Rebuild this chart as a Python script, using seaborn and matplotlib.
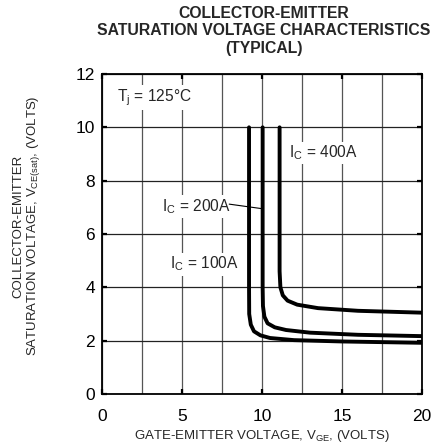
import matplotlib
matplotlib.use("Agg")
import matplotlib.pyplot as plt
import seaborn as sns
import pandas as pd

# Curves (V_GE in volts, V_CE(sat) in volts)
vge_100 = [9.19, 9.19, 9.20, 9.30, 9.50, 9.90, 10.5, 12.0, 15.0, 20.0]
vce_100 = [10.0, 4.00, 3.00, 2.60, 2.35, 2.20, 2.10, 2.02, 1.97, 1.92]

vge_200 = [10.04, 10.04, 10.06, 10.15, 10.35, 10.8, 11.5, 13.0, 16.0, 20.0]
vce_200 = [10.0, 4.00, 3.30, 2.90, 2.65, 2.50, 2.40, 2.30, 2.22, 2.17]

vge_400 = [11.10, 11.10, 11.15, 11.30, 11.60, 12.2, 13.5, 16.0, 20.0]
vce_400 = [10.0, 4.60, 4.00, 3.70, 3.50, 3.35, 3.22, 3.12, 3.05]

x_ticks = [0, 5, 10, 15, 20]
y_ticks = [0, 2, 4, 6, 8, 10, 12]

frames = []
for name, xs, ys in [("100A", vge_100, vce_100), ("200A", vge_200, vce_200), ("400A", vge_400, vce_400)]:
    frames.append(pd.DataFrame({"VGE": xs, "VCE": ys, "IC": name}))
df = pd.concat(frames, ignore_index=True)

sns.set_theme(style="ticks")
plt.rcParams["font.family"] = ["Liberation Sans", "DejaVu Sans"]
plt.rcParams["mathtext.default"] = "regular"
plt.rcParams["xtick.major.pad"] = 10.5
plt.rcParams["ytick.major.pad"] = 5

fig = plt.figure(figsize=(4.4, 4.45), dpi=100, facecolor="white")
ax = fig.add_axes([102 / 440, 1 - 394 / 445, 320 / 440, 320 / 445])

sns.lineplot(data=df, x="VGE", y="VCE", hue="IC", palette=["black"] * 3,
             sort=False, estimator=None, linewidth=2.8, legend=False, ax=ax, zorder=3)

ax.set_xlim(0, 20)
ax.set_ylim(0, 12)
ax.set_xticks(x_ticks)
ax.set_xticks([2.5, 7.5, 12.5, 17.5], minor=True)
ax.set_yticks(y_ticks)
ax.tick_params(axis="both", which="major", direction="in", length=3.5, width=1.6,
               top=True, right=True, labelsize=12.5, colors="black")
ax.tick_params(axis="x", which="minor", length=0)
ax.grid(axis="x", which="both", color="#555555", linewidth=0.9, zorder=1)
ax.grid(axis="y", which="major", color="#222222", linewidth=0.9, zorder=1)
for s in ax.spines.values():
    s.set_linewidth(1.3)
    s.set_color("black")

box = dict(facecolor="white", edgecolor="none", pad=1.5)
ax.text(0.92, 11.13, "T$_j$ = 125°C", fontsize=11.2, va="center", ha="left", bbox=box, zorder=4)
ax.text(11.7, 9.04, "I$_C$ = 400A", fontsize=11.2, va="center", ha="left", bbox=box, zorder=4)
ax.text(3.73, 7.02, "I$_C$ = 200A", fontsize=11.2, va="center", ha="left", bbox=box, zorder=4)
ax.text(4.25, 4.87, "I$_C$ = 100A", fontsize=11.2, va="center", ha="left", bbox=box, zorder=4)
ax.plot([7.95, 10.0], [7.12, 6.95], color="black", linewidth=0.8, zorder=4)

ax.set_xlabel("GATE-EMITTER VOLTAGE, V$_{GE}$, (VOLTS)", fontsize=9.5, labelpad=3.5)
ax.set_ylabel("")
fig.text(27 / 440, 1 - 226 / 445,
         "COLLECTOR-EMITTER\nSATURATION VOLTAGE, V$_{CE(sat)}$, (VOLTS)",
         rotation=90, ha="center", va="center", fontsize=9.5, linespacing=1.05,
         multialignment="center")

fig.text(264 / 440, 1 - 6 / 445,
         "COLLECTOR-EMITTER\nSATURATION VOLTAGE CHARACTERISTICS\n(TYPICAL)",
         ha="center", va="top", fontsize=11.3, fontweight="bold", linespacing=1.2)

fig.savefig("out.png", dpi=100)
